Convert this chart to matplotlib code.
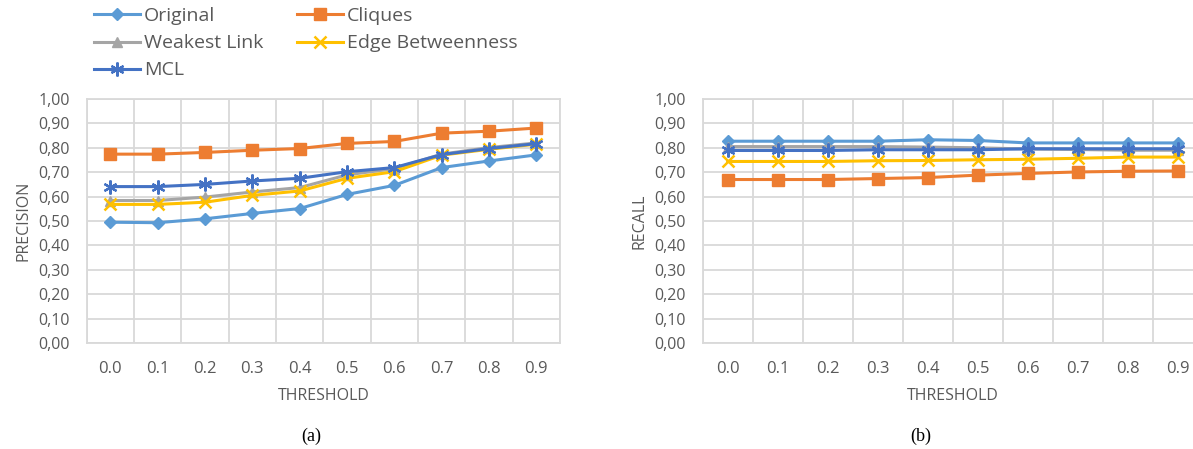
import matplotlib
matplotlib.use('Agg')
import matplotlib.pyplot as plt
import numpy as np

plt.rcParams['font.family'] = ['Open Sans', 'DejaVu Sans']

thresholds = ['0.0', '0.1', '0.2', '0.3', '0.4', '0.5', '0.6', '0.7', '0.8', '0.9']
y_ticks = [0.0, 0.1, 0.2, 0.3, 0.4, 0.5, 0.6, 0.7, 0.8, 0.9, 1.0]
y_tick_labels = ['0,00', '0,10', '0,20', '0,30', '0,40', '0,50',
                 '0,60', '0,70', '0,80', '0,90', '1,00']

series_names = ['Original', 'Cliques', 'Weakest Link', 'Edge Betweenness', 'MCL']

# precision per threshold
prec_original = [0.495, 0.493, 0.509, 0.531, 0.551, 0.609, 0.646, 0.719, 0.746, 0.771]
prec_cliques = [0.774, 0.774, 0.781, 0.790, 0.797, 0.818, 0.826, 0.860, 0.868, 0.881]
prec_weakest = [0.584, 0.584, 0.598, 0.619, 0.637, 0.689, 0.715, 0.774, 0.801, 0.820]
prec_edge = [0.568, 0.568, 0.577, 0.605, 0.623, 0.675, 0.702, 0.770, 0.794, 0.815]
prec_mcl = [0.641, 0.641, 0.650, 0.664, 0.675, 0.702, 0.719, 0.772, 0.797, 0.817]

# recall per threshold
rec_original = [0.827, 0.827, 0.827, 0.827, 0.833, 0.830, 0.820, 0.820, 0.820, 0.820]
rec_cliques = [0.670, 0.670, 0.670, 0.674, 0.678, 0.688, 0.695, 0.701, 0.704, 0.705]
rec_weakest = [0.805, 0.805, 0.805, 0.805, 0.803, 0.800, 0.795, 0.793, 0.790, 0.790]
rec_edge = [0.744, 0.744, 0.744, 0.747, 0.748, 0.751, 0.753, 0.757, 0.762, 0.762]
rec_mcl = [0.789, 0.789, 0.789, 0.792, 0.792, 0.792, 0.796, 0.796, 0.796, 0.796]

styles = [
    dict(color='#5B9BD5', marker='D', markersize=6),
    dict(color='#ED7D31', marker='s', markersize=8),
    dict(color='#A5A5A5', marker='^', markersize=7),
    dict(color='#FFC000', marker='x', markersize=8, markeredgewidth=1.8),
    dict(color='#4472C4', marker=(6, 2, 0), markersize=10, markeredgewidth=1.6),
]

grid_color = '#D9D9D9'
text_color = '#595959'

fig = plt.figure(figsize=(11.93, 4.49), dpi=100)
ax1 = fig.add_axes([0.0727, 0.2361, 0.3967, 0.5434])
ax2 = fig.add_axes([0.589, 0.2361, 0.4191, 0.5434])


def draw_panel(ax, data, ylabel):
    x = np.arange(len(thresholds))
    lines = []
    for name, vals, st in zip(series_names, data, styles):
        ln, = ax.plot(x, vals, linewidth=2.2, label=name, **st)
        lines.append(ln)

    ax.set_xlim(-0.5, len(thresholds) - 0.5)
    ax.set_ylim(0, 1)
    ax.set_xticks(x)
    ax.set_xticklabels(thresholds)
    ax.set_xticks(np.arange(-0.5, len(thresholds)), minor=True)
    ax.set_yticks(y_ticks)
    ax.set_yticklabels(y_tick_labels)

    ax.grid(True, which='minor', axis='x', color=grid_color, linewidth=1.3)
    ax.grid(True, which='major', axis='y', color=grid_color, linewidth=1.3)
    ax.set_axisbelow(True)
    for sp in ax.spines.values():
        sp.set_color(grid_color)
        sp.set_linewidth(1.3)

    ax.tick_params(which='both', length=0)
    ax.tick_params(axis='x', pad=13, labelsize=12, labelcolor=text_color)
    ax.tick_params(axis='y', pad=12, labelsize=11.5, labelcolor=text_color)

    ax.set_xlabel('THRESHOLD', fontsize=11.5, color=text_color, labelpad=8)
    ax.set_ylabel(ylabel, fontsize=11.5, color=text_color, labelpad=5)
    return lines


lines = draw_panel(ax1, [prec_original, prec_cliques, prec_weakest, prec_edge, prec_mcl],
                   'PRECISION')
draw_panel(ax2, [rec_original, rec_cliques, rec_weakest, rec_edge, rec_mcl], 'RECALL')

# legend fills column-wise, so reorder to get two entries per row
order = [0, 2, 4, 1, 3]
fig.legend([lines[i] for i in order], [series_names[i] for i in order],
           ncol=2, loc='upper left', bbox_to_anchor=(0.079, 0.984),
           frameon=False, fontsize=14, handlelength=2.35, handletextpad=0.2,
           columnspacing=1.75, labelspacing=0.47, borderpad=0, borderaxespad=0,
           labelcolor=text_color)

fig.text(311 / 1193, 1 - 436 / 449, '(a)', family='Liberation Serif', fontsize=13,
         ha='center', va='center', color='black')
fig.text(921 / 1193, 1 - 436 / 449, '(b)', family='Liberation Serif', fontsize=13,
         ha='center', va='center', color='black')

fig.savefig('out.png', dpi=100)
plt.close(fig)
